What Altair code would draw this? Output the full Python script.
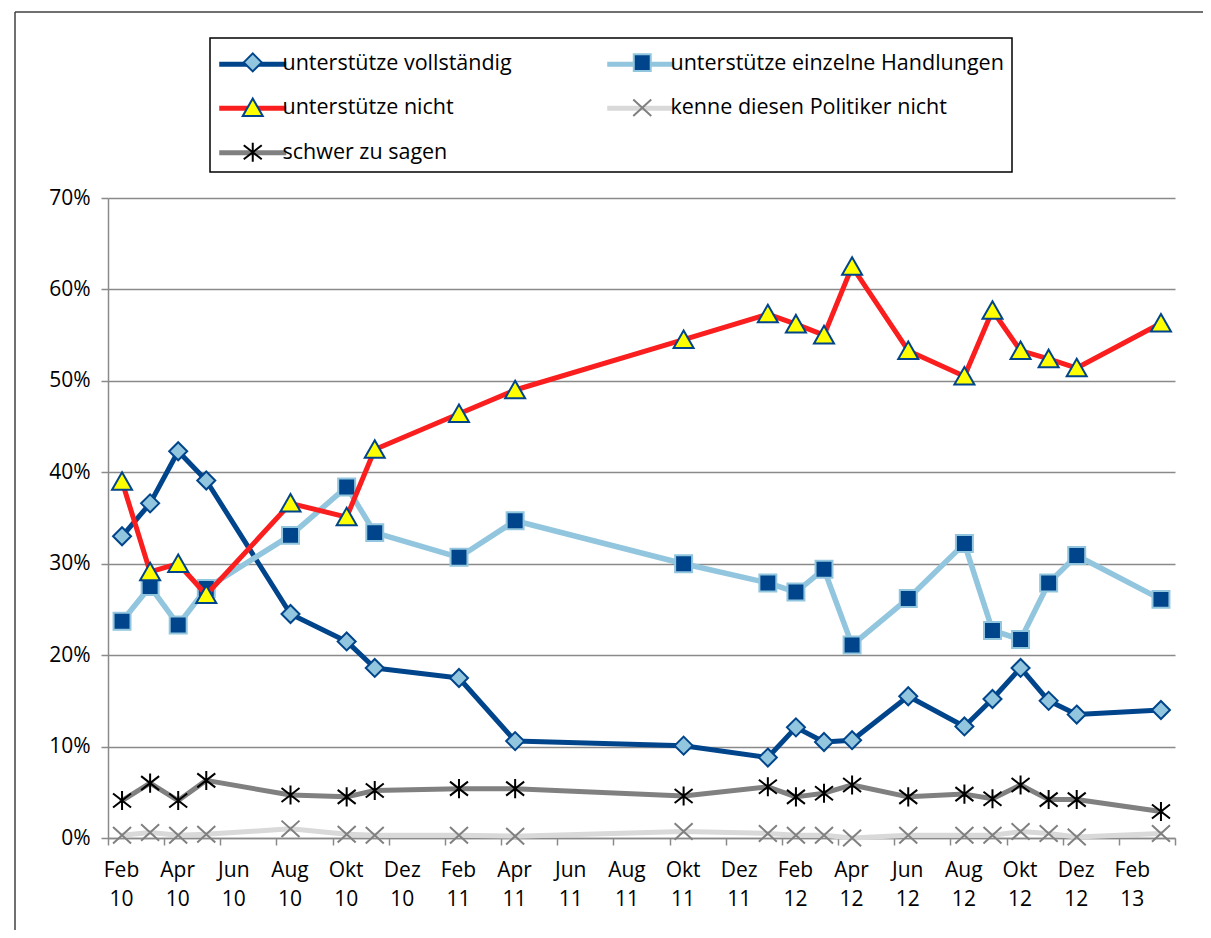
import json
import altair as alt
import pandas as pd

# month index: 0 = Feb 2010 ... 37 = Mar 2013
month_idx = [0, 1, 2, 3, 6, 8, 9, 12, 14, 20, 23, 24, 25, 26, 28, 30, 31, 32, 33, 34, 37]

tick_labels = ["Feb 10", "Apr 10", "Jun 10", "Aug 10", "Okt 10", "Dez 10",
               "Feb 11", "Apr 11", "Jun 11", "Aug 11", "Okt 11", "Dez 11",
               "Feb 12", "Apr 12", "Jun 12", "Aug 12", "Okt 12", "Dez 12", "Feb 13"]

y_ticks = [0, 10, 20, 30, 40, 50, 60, 70]

series_names = ["unterstütze vollständig", "unterstütze einzelne Handlungen",
                "unterstütze nicht", "kenne diesen Politiker nicht", "schwer zu sagen"]

vollstaendig = [33.0, 36.6, 42.3, 39.1, 24.5, 21.5, 18.6, 17.5, 10.6, 10.1, 8.8,
                12.1, 10.5, 10.7, 15.5, 12.2, 15.2, 18.6, 15.0, 13.5, 14.0]
einzelne = [23.7, 27.5, 23.3, 27.3, 33.1, 38.4, 33.4, 30.7, 34.7, 30.0, 27.9,
            26.9, 29.4, 21.1, 26.2, 32.2, 22.7, 21.7, 27.9, 30.9, 26.1]
nicht = [39.0, 29.1, 30.0, 26.6, 36.6, 35.1, 42.5, 46.4, 49.0, 54.5, 57.3,
         56.2, 55.0, 62.5, 53.3, 50.5, 57.7, 53.3, 52.4, 51.4, 56.3]
kenne = [0.3, 0.6, 0.3, 0.4, 1.0, 0.4, 0.3, 0.3, 0.2, 0.7, 0.5,
         0.3, 0.3, 0.0, 0.3, 0.3, 0.3, 0.7, 0.5, 0.1, 0.5]
schwer = [4.1, 6.0, 4.1, 6.3, 4.7, 4.5, 5.2, 5.4, 5.4, 4.6, 5.6,
          4.5, 4.9, 5.8, 4.5, 4.8, 4.3, 5.8, 4.2, 4.2, 2.9]

series_values = [vollstaendig, einzelne, nicht, kenne, schwer]

line_colors = ["#00458B", "#92C5DE", "#FA1E1E", "#D9D9D9", "#808080"]
line_widths = [5, 5.5, 5, 5, 5]
marker_fill = ["#92C5DE", "#00458B", "#FFFF00", "transparent", "transparent"]
marker_stroke = ["#00458B", "#92C5DE", "#00458B", "#808080", "#000000"]

# symbol unit = sqrt(256)/2 = 8 px
SYM_SIZE = 256
EXT = "M-4.19,0M4.19,0"
marker_shapes = [
    EXT + "M0,-1.125L1.125,0L0,1.125L-1.125,0Z",
    EXT + "M-1.06,-1.06L1.06,-1.06L1.06,1.06L-1.06,1.06Z",
    EXT + "M0,-1.16L1.25,1.03L-1.25,1.03Z",
    EXT + "M-1.125,-1.03L1.125,1.03M-1.125,1.03L1.125,-1.03",
    EXT + "M0,-1.19L0,1.19M-1.125,-0.875L1.125,0.875M-1.125,0.875L1.125,-0.875",
]
LINE_SYMBOL = "M-4.19,0L4.19,0"

FONT = "Open Sans"
ZW = "\u200b"
series_m_names = [n + ZW for n in series_names]

records = []
for name, values in zip(series_names, series_values):
    for m, v in zip(month_idx, values):
        records.append({"month": m, "value": v, "series": name, "series_m": name + ZW})
df = pd.DataFrame(records)

arr = json.dumps(tick_labels, ensure_ascii=False)
idx = "round((datum.value + 0.5) / 2)"
x_label_expr = f"{arr}[{idx}] ? split({arr}[{idx}], ' ') : ''"

GRID = "#8a8a8a"
x_axis = alt.Axis(values=[-0.5 + 2 * i for i in range(20)], labelExpr=x_label_expr,
                  title=None, grid=False, domainColor=GRID, domainWidth=1.5,
                  tickColor=GRID, tickWidth=1.5, tickSize=7, labelPadding=14,
                  labelLineHeight=29, labelOffset=13, labelFont=FONT, labelFontSize=21,
                  labelColor="black", labelAngle=0, labelOverlap=False,
                  labelFlush=False, labelBound=False)
y_axis = alt.Axis(values=y_ticks, labelExpr="datum.value + '%'", title=None,
                  grid=True, gridColor=GRID, gridWidth=1.5, domainColor=GRID,
                  domainWidth=1.5, tickColor=GRID, tickWidth=1.5, tickSize=7,
                  labelPadding=11, labelFont=FONT, labelFontSize=21, labelColor="black")

x_enc = alt.X("month:Q", scale=alt.Scale(domain=[-0.5, 37.5], nice=False, zero=False), axis=x_axis)
y_enc = alt.Y("value:Q", scale=alt.Scale(domain=[0, 70], nice=False, zero=True), axis=y_axis)

LX, LY = 102, -160
common_legend = dict(orient="none", legendX=LX, legendY=LY, columns=2, direction="horizontal",
                     title=" ", titleFontSize=4,
                     symbolSize=SYM_SIZE, symbolOffset=24, labelOffset=19,
                     labelFont=FONT, labelFontSize=21.5, labelColor="black",
                     labelLimit=600, padding=8)
# line part of the legend (with the labels)
legendA = alt.Legend(symbolType=LINE_SYMBOL, symbolStrokeWidth=5, strokeColor="black",
                     titlePadding=3, rowPadding=21.5, columnPadding=85, **common_legend)
# marker part of the legend, drawn on top of the line part
legendB = alt.Legend(symbolStrokeWidth=2, labelExpr="''", titlePadding=1.5,
                     rowPadding=18.5, columnPadding=313.5, **common_legend)

color_scale = alt.Scale(domain=series_names, range=line_colors)
shape_scale = alt.Scale(domain=series_m_names, range=marker_shapes)
fill_scale = alt.Scale(domain=series_m_names, range=marker_fill)
stroke_scale = alt.Scale(domain=series_m_names, range=marker_stroke)

one = alt.Data(values=[{"a": 1}])
frame_top = alt.Chart(one).mark_rule(color="#404040", strokeWidth=1.5).encode(
    x=alt.value(-93), x2=alt.value(1300), y=alt.value(-186))
frame_left = alt.Chart(one).mark_rule(color="#404040", strokeWidth=1.5).encode(
    x=alt.value(-93), y=alt.value(-186), y2=alt.value(1000))

layers = [frame_top, frame_left]
for i, name in enumerate(series_names):
    base = alt.Chart(df).transform_filter(alt.datum.series == name)
    line = base.mark_line(strokeWidth=line_widths[i], strokeJoin="round", strokeCap="round").encode(
        x=x_enc, y=y_enc,
        color=alt.Color("series:N", scale=color_scale, legend=legendA),
    )
    pts = base.mark_point(filled=True, opacity=1, size=SYM_SIZE, strokeWidth=2).encode(
        x=x_enc, y=y_enc,
        shape=alt.Shape("series_m:N", scale=shape_scale, legend=legendB),
        fill=alt.Fill("series_m:N", scale=fill_scale, legend=legendB),
        stroke=alt.Stroke("series_m:N", scale=stroke_scale, legend=legendB),
    )
    layers += [line, pts]

chart = alt.layer(*layers).properties(
    width=1067, height=640,
    autosize=alt.AutoSizeParams(type="none"),
    padding={"left": 100, "top": 190, "right": 28, "bottom": 92},
).configure_view(stroke="transparent").configure_legend(strokeWidth=1.5)

chart.save("out.html", embed_options={"renderer": "svg", "actions": False})
